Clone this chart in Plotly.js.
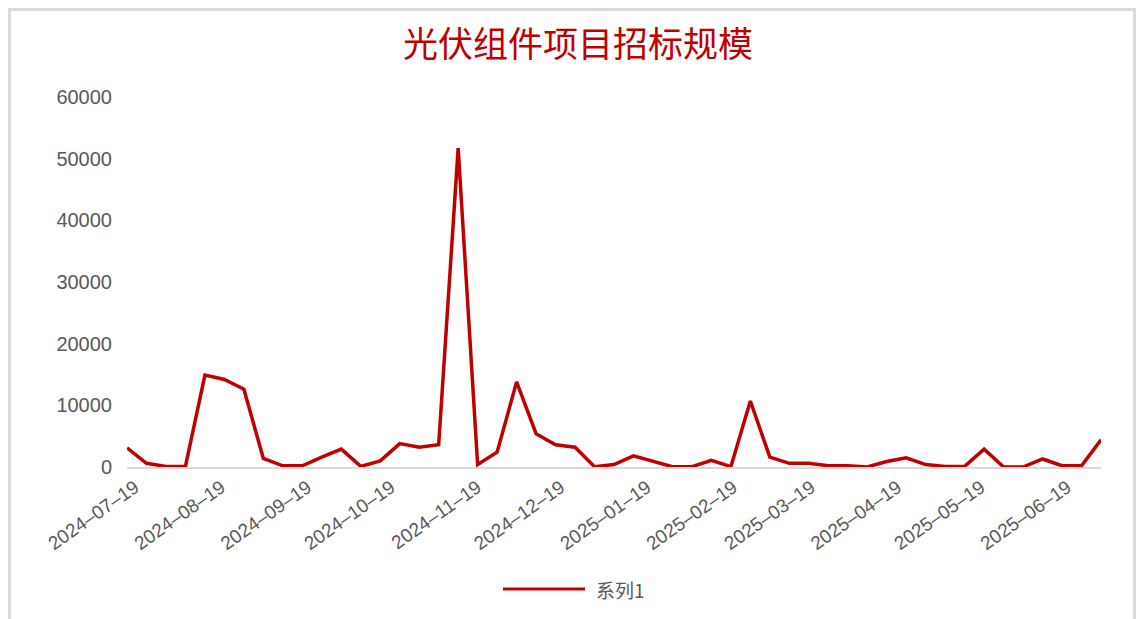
<!DOCTYPE html>
<html>
<head>
<meta charset="utf-8">
<script src="https://cdn.plot.ly/plotly-3.0.1.min.js"></script>
<style>
  html, body { margin: 0; padding: 0; background: #ffffff; }
  #wrap { position: relative; width: 1147px; height: 619px; overflow: hidden; }
  #chart { position: absolute; left: 0; top: 0; width: 1147px; height: 619px; }
  #frame { position: absolute; left: 8px; top: 8px; width: 1128px; height: 640px;
           border: 3px solid #d9d9d9; pointer-events: none; box-sizing: border-box; }
</style>
</head>
<body>
<div id="wrap">
  <div id="chart"></div>
  <div id="frame"></div>
</div>
<script>
const chartTitle = "光伏组件项目招标规模";
const seriesName = "系列1";

const dates = [
  "2024-07-19","2024-07-26","2024-08-02","2024-08-09","2024-08-16","2024-08-23","2024-08-30",
  "2024-09-06","2024-09-13","2024-09-20","2024-09-27","2024-10-04","2024-10-11","2024-10-18",
  "2024-10-25","2024-11-01","2024-11-08","2024-11-15","2024-11-22","2024-11-29","2024-12-06",
  "2024-12-13","2024-12-20","2024-12-27","2025-01-03","2025-01-10","2025-01-17","2025-01-24",
  "2025-01-31","2025-02-07","2025-02-14","2025-02-21","2025-02-28","2025-03-07","2025-03-14",
  "2025-03-21","2025-03-28","2025-04-04","2025-04-11","2025-04-18","2025-04-25","2025-05-02",
  "2025-05-09","2025-05-16","2025-05-23","2025-05-30","2025-06-06","2025-06-13","2025-06-20",
  "2025-06-27","2025-07-04"
];

const values = [
  3100, 600, 100, 100, 14900, 14200, 12600,
  1400, 200, 200, 1600, 2900, 100, 1000,
  3800, 3200, 3600, 51700, 400, 2400, 13800,
  5400, 3600, 3200, 50, 400, 1800, 900,
  50, 50, 1100, 50, 10700, 1600, 600,
  600, 200, 200, 0, 900, 1500, 400,
  100, 100, 2900, 0, 0, 1300, 200,
  200, 4400
];

const tickDates = [
  "2024-07-19","2024-08-19","2024-09-19","2024-10-19","2024-11-19","2024-12-19",
  "2025-01-19","2025-02-19","2025-03-19","2025-04-19","2025-05-19","2025-06-19"
];
const tickLabels = [
  "2024–07–19","2024–08–19","2024–09–19","2024–10–19","2024–11–19","2024–12–19",
  "2025–01–19","2025–02–19","2025–03–19","2025–04–19","2025–05–19","2025–06–19"
];
const yTicks = [0, 10000, 20000, 30000, 40000, 50000, 60000];
const yTickLabels = ["0", "10000", "20000", "30000", "40000", "50000", "60000"];

const lineColor = "#C00000";

const trace = {
  x: dates,
  y: values,
  type: "scatter",
  mode: "lines",
  name: seriesName,
  line: { color: lineColor, width: 3.5 },
  showlegend: false
};

// plot area: x 127..1101 px, y 97..467 px
const px = v => (v - 127) / 974;
const py = v => (467 - v) / 370;

const layout = {
  width: 1147,
  height: 619,
  margin: { l: 127, r: 46, t: 97, b: 152 },
  paper_bgcolor: "#ffffff",
  plot_bgcolor: "#ffffff",
  title: {
    text: chartTitle,
    x: 578 / 1147,
    xanchor: "center",
    xref: "container",
    y: 1 - 45 / 619,
    yanchor: "middle",
    yref: "container",
    font: { family: "Noto Sans CJK SC, sans-serif", size: 35, color: lineColor }
  },
  xaxis: {
    type: "date",
    range: [dates[0], dates[dates.length - 1]],
    tickmode: "array",
    tickvals: tickDates,
    ticktext: tickLabels,
    tickangle: -35,
    ticklabelshift: 8,
    ticks: "",
    showgrid: false,
    zeroline: false,
    showline: true,
    linecolor: "#d9d9d9",
    linewidth: 2,
    tickfont: { family: "Liberation Sans, Arial, sans-serif", size: 19, color: "#595959" },
    fixedrange: true
  },
  yaxis: {
    range: [0, 60000],
    tickmode: "array",
    tickvals: yTicks,
    ticktext: yTickLabels,
    ticks: "",
    ticklabelstandoff: 14,
    showgrid: false,
    zeroline: false,
    showline: false,
    tickfont: { family: "Liberation Sans, Arial, sans-serif", size: 20, color: "#595959" },
    fixedrange: true
  },
  showlegend: false,
  shapes: [
    {
      type: "line", xref: "paper", yref: "paper",
      x0: px(503), x1: px(585), y0: py(589), y1: py(589),
      line: { color: lineColor, width: 3 }
    }
  ],
  annotations: [
    {
      xref: "paper", yref: "paper",
      x: px(594), y: py(589),
      xanchor: "left", yanchor: "middle",
      text: seriesName,
      showarrow: false,
      font: { family: "Noto Sans CJK SC, sans-serif", size: 19, color: "#595959" }
    }
  ]
};

Plotly.newPlot("chart", [trace], layout, { displayModeBar: false, staticPlot: true });
</script>
</body>
</html>
